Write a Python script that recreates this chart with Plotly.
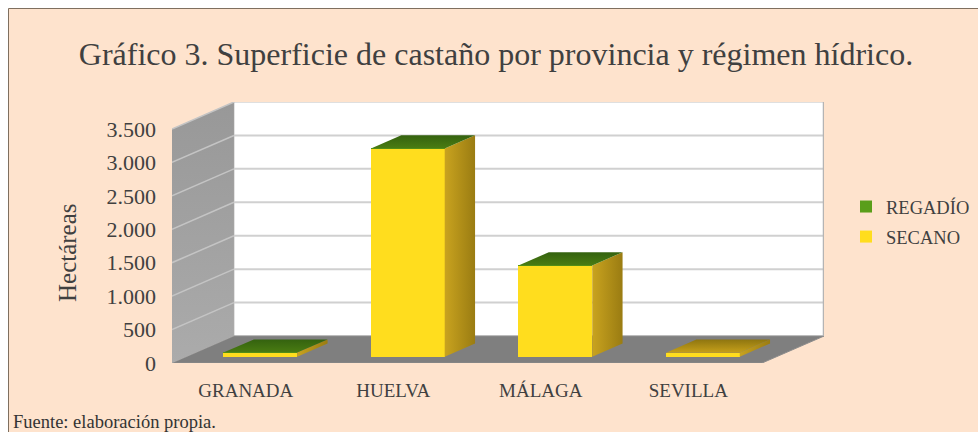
import plotly.graph_objects as go

# ---- data ----
categories = ["GRANADA", "HUELVA", "MÁLAGA", "SEVILLA"]
secano = [55, 3110, 1360, 60]
regadio = [6, 4, 4, 0]
tick_values = [0, 500, 1000, 1500, 2000, 2500, 3000, 3500]
tick_labels = ["0", "500", "1.000", "1.500", "2.000", "2.500", "3.000", "3.500"]

# ---- oblique projection (axis units) ----
DEPTH_X = 0.42      # full depth along x, in category units
DEPTH_Y = 403.0     # full depth along y, in value units
X0, X1 = -0.5, 3.5
Y_TOP = 3500
BAR_W = 0.5
D0, D1 = 0.235, 0.725 # bar occupies the middle of the depth

def proj(x, v, d):
    return x + d * DEPTH_X, v + d * DEPTH_Y

def poly(points):
    xs, ys = zip(*[proj(*p) for p in points])
    return list(xs) + [xs[0]], list(ys) + [ys[0]]

def hgrad(c0, c1):
    return dict(type="horizontal", colorscale=[[0, c0], [1, c1]])

def vgrad(c0, c1):
    return dict(type="vertical", colorscale=[[0, c0], [1, c1]])

def face(points, grad, col):
    xs, ys = poly(points)
    return go.Scatter(x=xs, y=ys, mode="lines", fill="toself", fillgradient=grad,
                      line=dict(width=0, color=col), hoverinfo="skip", showlegend=False)

def path(points):
    xs, ys = poly(points)
    return "M" + "L".join(f"{a},{b}" for a, b in zip(xs, ys)) + "Z"

# plot-area pixel box
PL, PR, PT, PB = 172, 824, 102, 363
W, H = 978, 432
XR = [X0, X1 + DEPTH_X]
YR = [0, Y_TOP + DEPTH_Y]

def paper_x(px):
    return (px - PL) / (PR - PL)

def paper_y(py):
    return (PB - py) / (PB - PT)

fig = go.Figure()

# left wall
fig.add_trace(face([(X0, 0, 0), (X0, 0, 1), (X0, Y_TOP, 1), (X0, Y_TOP, 0)],
                   vgrad("#ababab", "#989898"), "#a0a0a0"))
for t in tick_values[1:]:
    xs, ys = zip(proj(X0, t, 0), proj(X0, t, 1))
    fig.add_trace(go.Scatter(x=xs, y=ys, mode="lines", line=dict(color="#c4c4c4", width=1.5),
                             hoverinfo="skip", showlegend=False))

# bars: front faces through the library's bar trace
bar_x = [i + D0 * DEPTH_X for i in range(len(categories))]
bar_base = D0 * DEPTH_Y
fig.add_trace(go.Bar(x=bar_x, y=secano, base=[bar_base] * 4, width=BAR_W, name="SECANO",
                     marker=dict(color="#ffdd1e", line=dict(width=0)),
                     legendgroup="s", legendrank=2))
fig.add_trace(go.Bar(x=bar_x, y=regadio, base=[bar_base + s for s in secano], width=BAR_W,
                     name="REGADÍO", marker=dict(color="#5a9e1a", line=dict(width=0)),
                     legendgroup="r", legendrank=1))

# bars: side and top faces
for i, (s, r) in enumerate(zip(secano, regadio)):
    l, h = i - BAR_W / 2, i + BAR_W / 2
    fig.add_trace(face([(h, 0, D0), (h, 0, D1), (h, s + r, D1), (h, s + r, D0)],
                       hgrad("#c9a31f", "#9a7c12"), "#b89414"))
    top = (vgrad("#c6a01a", "#8e7510"), "#a88a14") if r == 0 else (vgrad("#4a7c12", "#34620f"), "#3c6a12")
    fig.add_trace(face([(l, s + r, D0), (h, s + r, D0), (h, s + r, D1), (l, s + r, D1)], *top))

shapes = [
    # chart background and border
    dict(type="rect", xref="paper", yref="paper", layer="below",
         x0=paper_x(8.5), x1=paper_x(W + 5), y0=paper_y(H + 5), y1=paper_y(8.5),
         fillcolor="#fee3cd", line=dict(color="#7f6f5f", width=1)),
    # back wall
    dict(type="path", layer="below", xref="x", yref="y",
         path=path([(X0, 0, 1), (X1, 0, 1), (X1, Y_TOP, 1), (X0, Y_TOP, 1)]),
         fillcolor="#ffffff", line=dict(color="#c0c0c0", width=1)),
    # floor
    dict(type="path", layer="below", xref="x", yref="y",
         path=path([(X0, 0, 0), (X1, 0, 0), (X1, 0, 1), (X0, 0, 1)]),
         fillcolor="#7f7f7f", line=dict(color="#8c8c8c", width=1)),
]
for t in tick_values[1:-1]:
    a, b = proj(X0, t, 1), proj(X1, t, 1)
    shapes.append(dict(type="line", layer="below", xref="x", yref="y",
                       x0=a[0], y0=a[1], x1=b[0], y1=b[1], line=dict(color="#d0d0d0", width=2)))
# right edge of back wall
a, b = proj(X1, 0, 1), proj(X1, Y_TOP, 1)
shapes.append(dict(type="line", layer="below", xref="x", yref="y",
                   x0=a[0], y0=a[1], x1=b[0], y1=b[1], line=dict(color="#b4b4b4", width=2.5)))

FONT = "Liberation Serif"
fig.update_layout(
    width=W, height=H,
    margin=dict(l=PL, r=W - PR, t=PT, b=H - PB, autoexpand=False),
    paper_bgcolor="#ffffff", plot_bgcolor="rgba(0,0,0,0)",
    barmode="overlay", bargap=0,
    font=dict(family=FONT, color="#404040", size=20),
    title=dict(text="Gráfico 3. Superficie de castaño por provincia y régimen hídrico.",
               x=496 / W, xanchor="center", y=1 - 54 / H, yanchor="middle",
               font=dict(family=FONT, size=32, color="#404040")),
    xaxis=dict(range=XR, tickmode="array", tickvals=list(range(4)), ticktext=categories,
               showgrid=False, zeroline=False, showline=False, ticks="",
               ticklabelstandoff=14, tickfont=dict(size=19)),
    yaxis=dict(range=YR, tickmode="array", tickvals=tick_values, ticktext=tick_labels,
               showgrid=False, zeroline=False, showline=False, ticks="",
               ticklabelstandoff=15, tickfont=dict(size=22)),
    legend=dict(x=paper_x(846), xanchor="left", y=paper_y(188), yanchor="top",
                bgcolor="rgba(0,0,0,0)", font=dict(size=18.5), tracegroupgap=3,
                itemclick=False, itemdoubleclick=False),
    shapes=shapes,
    annotations=[
        dict(text="Fuente: elaboración propia.", xref="paper", yref="paper",
             x=paper_x(11), y=paper_y(421.5), xanchor="left", yanchor="middle",
             showarrow=False, font=dict(size=18.5, color="#333333")),
        dict(text="Hectáreas", xref="paper", yref="paper", textangle=-90,
             x=paper_x(67), y=paper_y(253), xanchor="center", yanchor="middle",
             showarrow=False, font=dict(size=25, color="#404040")),
    ],
)
fig.write_html("out.html", config=dict(displayModeBar=False),
               post_script="document.body.style.margin='0';")
